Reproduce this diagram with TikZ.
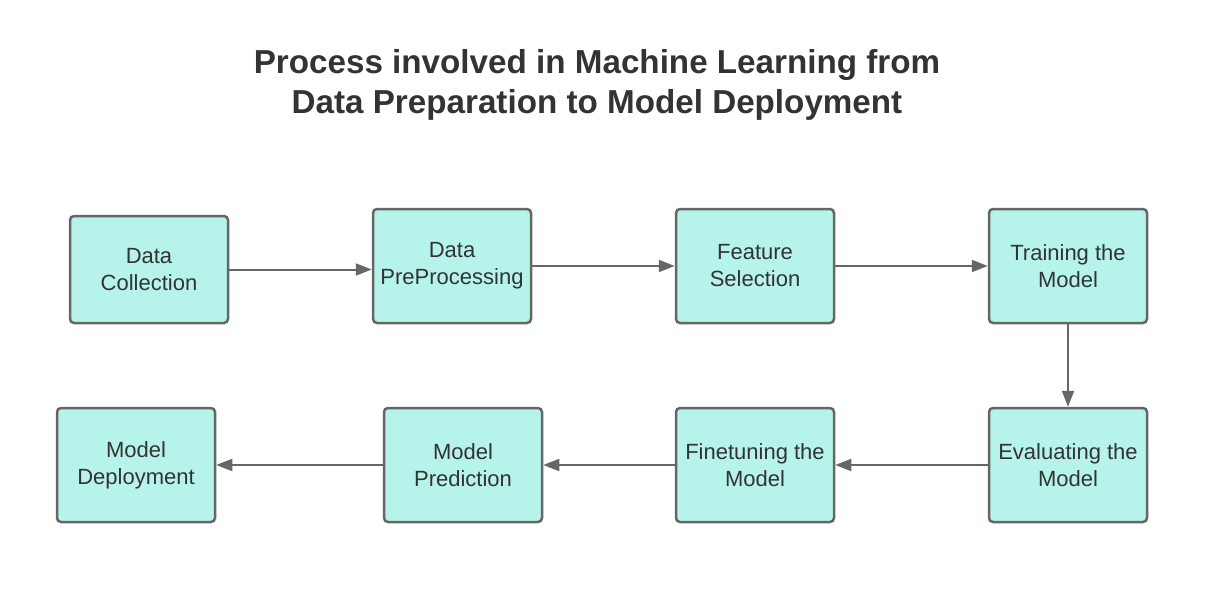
\documentclass[tikz,border=0pt]{standalone}
\usepackage{fontspec}
\setmainfont{Liberation Sans}
\usetikzlibrary{arrows.meta}
\definecolor{boxfill}{HTML}{B5F3EB}
\definecolor{boxline}{HTML}{666666}
\definecolor{textgray}{HTML}{333333}

\begin{document}
\begin{tikzpicture}[x=1pt,y=-1pt,
		stage/.style = {draw=boxline, fill=boxfill, line width=2.5pt, rounded corners=4pt, minimum width=158pt, minimum height=114pt, align=center, text=textgray, font=\fontsize{22}{27}\selectfont},
		flow/.style = {boxline, line width=2pt, -{Triangle[length=16pt,width=12pt]}}]
					\useasboundingbox (0,0) rectangle (1221,591);
					\node[text=textgray, align=center, font=\fontsize{33.2}{40}\selectfont\bfseries] (T) at (597,85) {Process involved in Machine Learning from\\Data Preparation to Model Deployment};
					\begin{scope}[every node/.style={stage}]
						\node[minimum height=107pt] (DC) at (149,269.5) {Data\\Collection};
						\node (DP) at (452,266) {Data\\PreProcessing};
						\node (FS) at (755,266) {Feature\\Selection};
						\node (TM) at (1068,266) {Training the\\Model};
						\node (EM) at (1068,465) {Evaluating the\\Model};
						\node (FM) at (755,465) {Finetuning the\\Model};
						\node (MP) at (463,465) {Model\\Prediction};
						\node (MD) at (136,465) {Model\\Deployment};
					\end{scope}
					\draw [flow] (DC.east) -- (DC.east -| DP.west);
					\draw [flow] (DP) -- (FS);
					\draw [flow] (FS) -- (TM);
					\draw [flow] (TM) -- (EM);
					\draw [flow] (EM) -- (FM);
					\draw [flow] (FM) -- (MP);
					\draw [flow] (MP) -- (MD);
				\end{tikzpicture}
\end{document}
